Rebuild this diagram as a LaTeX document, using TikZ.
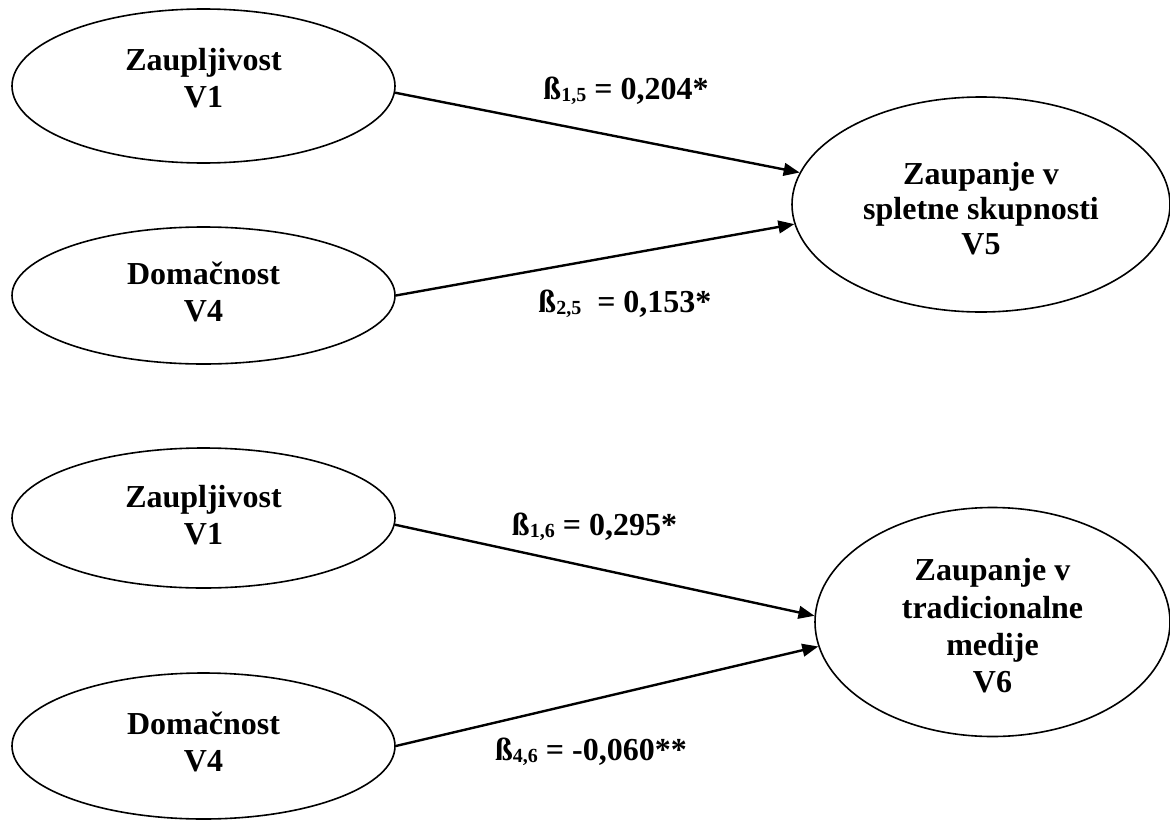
\documentclass[tikz,border=0pt]{standalone}
\usepackage{fontspec}
\setmainfont{Liberation Serif}
\usetikzlibrary{shapes.geometric,arrows.meta}
\newcommand{\sbs}[1]{\raisebox{-1.5pt}{\fontsize{15}{15}\selectfont #1}}
\begin{document}
\begin{tikzpicture}[x=0.75pt,y=-0.75pt,
  oval/.style={ellipse,draw,line width=1.2pt,inner sep=0pt},
  txt/.style={font=\fontsize{24}{27.5}\selectfont\bfseries,align=center,inner sep=0pt},
  conn/.style={line width=1.8pt,-{Triangle[length=12pt,width=9.5pt]}},
  coef/.style={font=\fontsize{24}{27}\selectfont\bfseries,inner sep=0pt,anchor=base}]
\useasboundingbox (0,0) rectangle (1170,821);
% top model
\node[oval,minimum width=287.25pt,minimum height=115.5pt] (a) at (203.5,86) {};
\node[txt] (ta) at (203.5,78) {Zaupljivost\\V1};
\node[oval,minimum width=287.25pt,minimum height=102.75pt] (b) at (203.5,295.5) {};
\node[txt] (tb) at (203.5,292) {Domačnost\\V4};
\node[oval,minimum width=283.5pt,minimum height=161.25pt] (c) at (981,204.5) {};
\node[txt,font=\fontsize{24}{26}\selectfont\bfseries] (tc) at (981,208.5) {Zaupanje v\\spletne skupnosti\\V5};
\draw[conn] (a.-2) -- (c.170);
\draw[conn] (b.0) -- (c.186);
\node[coef] (l1) at (626,99) {ß\sbs{1,5} = 0,204*};
\node[coef] (l2) at (625,312) {ß\sbs{2,5}\ \ = 0,153*};
% bottom model
\node[oval,minimum width=287.25pt,minimum height=105pt] (d) at (203.5,518) {};
\node[txt] (td) at (203.5,515) {Zaupljivost\\V1};
\node[oval,minimum width=287.25pt,minimum height=109.5pt] (e) at (203.5,746) {};
\node[txt] (te) at (203.5,742) {Domačnost\\V4};
\node[oval,minimum width=266.25pt,minimum height=171.75pt] (f) at (992.5,622) {};
\node[txt,font=\fontsize{24}{28}\selectfont\bfseries] (tf) at (992.5,626) {Zaupanje v\\tradicionalne\\medije\\V6};
\draw[conn] (d.-2) -- (f.178);
\draw[conn] (e.0) -- (f.188);
\node[coef] (l3) at (594.5,535) {ß\sbs{1,6} = 0,295*};
\node[coef] (l4) at (591,760) {ß\sbs{4,6} = -0,060**};
\end{tikzpicture}
\end{document}
